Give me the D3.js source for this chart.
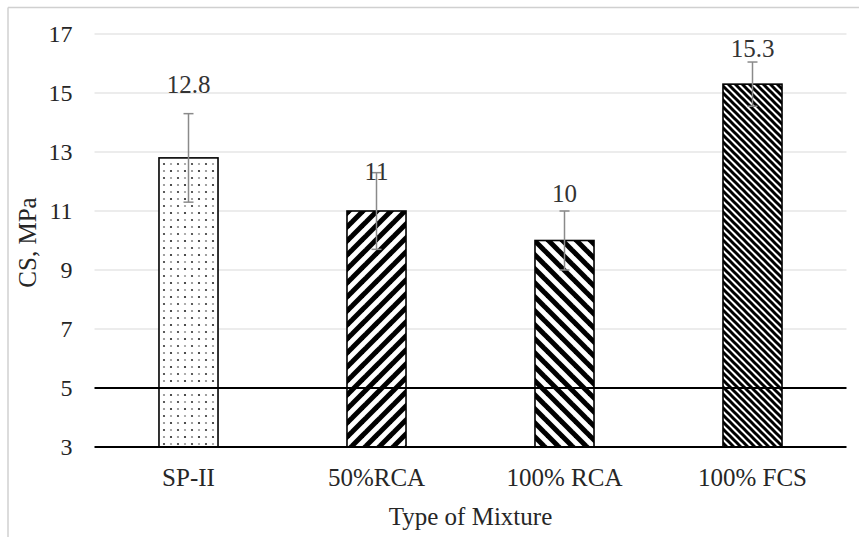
<!DOCTYPE html>
<html>
<head>
<meta charset="utf-8">
<script src="https://cdn.jsdelivr.net/npm/d3@7"></script>
<style>
  html, body { margin: 0; padding: 0; background: #fff; }
  svg { display: block; }
</style>
</head>
<body>
<svg id="chart" width="859" height="537"></svg>
<script>
// Compressive strength per mixture type
const categories = ["SP-II", "50%RCA", "100% RCA", "100% FCS"];
const strength = [12.8, 11, 10, 15.3];
const strengthLabels = ["12.8", "11", "10", "15.3"];
const errorHalf = [1.5, 1.3, 1.0, 0.75];
const yTicks = [3, 5, 7, 9, 11, 13, 15, 17];
const referenceLine = 5;

// Fill patterns per bar, and how far each value label sits above its bar (px)
const fills = ["dots", "wideUp", "wideDown", "darkDown"];
const labelLift = [73, 40, 47, 36];

const W = 859, H = 537;
const m = { left: 94.5, right: 846.5, top: 34, bottom: 447 };
const serif = "'Liberation Serif', 'Times New Roman', Times, serif";

const svg = d3.select("#chart");
svg.append("rect").attr("width", W).attr("height", H).attr("fill", "#fff");

// chart-area border (top and left edges)
svg.append("line").attr("x1", 8).attr("x2", W).attr("y1", 7.5).attr("y2", 7.5)
  .attr("stroke", "#d0d0d0").attr("stroke-width", 1.5);
svg.append("line").attr("x1", 8).attr("x2", 8).attr("y1", 7.5).attr("y2", H)
  .attr("stroke", "#d0d0d0").attr("stroke-width", 1.5);

const defs = svg.append("defs");

// sparse dot fill
const pDots = defs.append("pattern").attr("id", "dots")
  .attr("patternUnits", "userSpaceOnUse").attr("width", 14).attr("height", 14);
pDots.append("rect").attr("width", 14).attr("height", 14).attr("fill", "#fff");
[[3, 3, "#222"], [10, 10, "#333"], [10, 3, "#888"], [3, 10, "#999"]].forEach(([cx, cy, c]) => {
  pDots.append("circle").attr("cx", cx).attr("cy", cy).attr("r", 1.1).attr("fill", c);
});

// diagonal hatch fills
function stripes(id, size, sw, up) {
  const p = defs.append("pattern").attr("id", id)
    .attr("patternUnits", "userSpaceOnUse").attr("width", size).attr("height", size);
  p.append("rect").attr("width", size).attr("height", size).attr("fill", "#fff");
  const segs = up
    ? [[0, size, size, 0], [0, 2 * size, 2 * size, 0], [-size, size, size, -size]]
    : [[0, 0, size, size], [-size, 0, size, 2 * size], [0, -size, 2 * size, size]];
  segs.forEach(([x1, y1, x2, y2]) => {
    p.append("line").attr("x1", x1).attr("y1", y1).attr("x2", x2).attr("y2", y2)
      .attr("stroke", "#000").attr("stroke-width", sw);
  });
}
stripes("wideUp", 14, 5, true);
stripes("wideDown", 14, 5, false);
stripes("darkDown", 7, 3, false);

const x = d3.scaleBand().domain(categories).range([m.left, m.right])
  .paddingInner(0.686).paddingOuter(0.343);
const y = d3.scaleLinear().domain([3, 17]).range([m.bottom, m.top]);

// horizontal gridlines
svg.append("g").selectAll("line").data(yTicks.filter(t => t !== 3 && t !== referenceLine)).join("line")
  .attr("x1", m.left).attr("x2", m.right)
  .attr("y1", d => y(d)).attr("y2", d => y(d))
  .attr("stroke", "#d9d9d9").attr("stroke-width", 1.2);

// y tick labels
const yAxis = d3.axisLeft(y).tickValues(yTicks).tickSize(0).tickPadding(0);
const gy = svg.append("g").attr("transform", `translate(${m.left - 22},0)`).call(yAxis);
gy.select(".domain").remove();
gy.selectAll("text").attr("font-family", serif).attr("font-size", 24).attr("fill", "#262626");

// bars
svg.append("g").selectAll("rect").data(categories).join("rect")
  .attr("x", d => x(d)).attr("width", x.bandwidth())
  .attr("y", (d, i) => y(strength[i]))
  .attr("height", (d, i) => y(3) - y(strength[i]))
  .attr("fill", (d, i) => `url(#${fills[i]})`)
  .attr("stroke", "#000").attr("stroke-width", 1.6);

// baseline and 5 MPa reference line
svg.append("line").attr("x1", m.left).attr("x2", m.right)
  .attr("y1", y(3)).attr("y2", y(3)).attr("stroke", "#000").attr("stroke-width", 2);
svg.append("line").attr("x1", m.left).attr("x2", m.right)
  .attr("y1", y(referenceLine)).attr("y2", y(referenceLine)).attr("stroke", "#000").attr("stroke-width", 2);

// error bars
const eg = svg.append("g").attr("stroke", "#8a8a8a").attr("stroke-width", 1.5);
categories.forEach((c, i) => {
  const cx = x(c) + x.bandwidth() / 2;
  const hi = y(strength[i] + errorHalf[i]), lo = y(strength[i] - errorHalf[i]);
  eg.append("line").attr("x1", cx).attr("x2", cx).attr("y1", hi).attr("y2", lo);
  eg.append("line").attr("x1", cx - 5).attr("x2", cx + 5).attr("y1", hi).attr("y2", hi);
  eg.append("line").attr("x1", cx - 5).attr("x2", cx + 5).attr("y1", lo).attr("y2", lo);
});

// value labels
svg.append("g").selectAll("text").data(categories).join("text")
  .attr("x", d => x(d) + x.bandwidth() / 2)
  .attr("y", (d, i) => y(strength[i]) - labelLift[i])
  .attr("text-anchor", "middle").attr("dominant-baseline", "central")
  .attr("font-family", serif).attr("font-size", 25).attr("fill", "#333")
  .text((d, i) => strengthLabels[i]);

// category labels
const xAxis = d3.axisBottom(x).tickSize(0).tickPadding(0);
const gx = svg.append("g").attr("transform", `translate(0,${m.bottom + 21})`).call(xAxis);
gx.select(".domain").remove();
gx.selectAll("text").attr("font-family", serif).attr("font-size", 25).attr("fill", "#262626");

// axis titles
svg.append("text").attr("x", (m.left + m.right) / 2).attr("y", 525)
  .attr("text-anchor", "middle").attr("font-family", serif).attr("font-size", 25).attr("fill", "#262626")
  .text("Type of Mixture");
svg.append("text").attr("transform", `translate(27,${(m.top + m.bottom) / 2 + 2}) rotate(-90)`)
  .attr("text-anchor", "middle").attr("dominant-baseline", "central")
  .attr("font-family", serif).attr("font-size", 25).attr("fill", "#262626")
  .text("CS, MPa");
</script>
</body>
</html>
